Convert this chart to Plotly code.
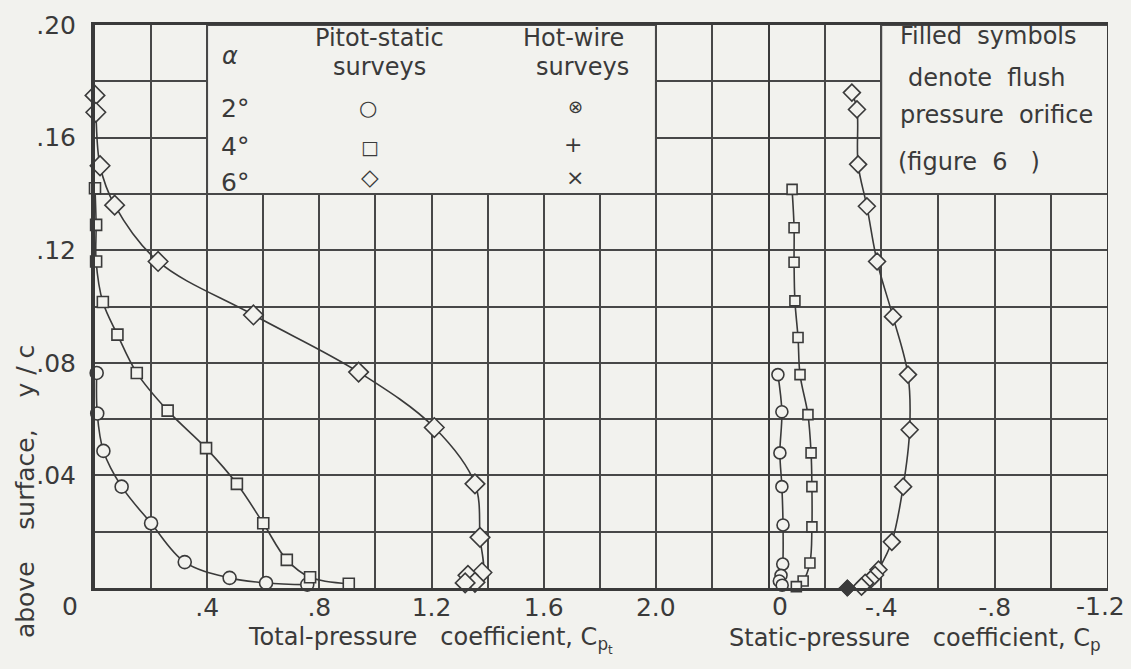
import plotly.graph_objects as go

# ---------------- data ----------------
# Total-pressure coefficient (left panel), y/c
tp_a2_cpt = [0.006, 0.008, 0.030, 0.095, 0.200, 0.320, 0.480, 0.610, 0.757]
tp_a2_y = [0.0764, 0.0620, 0.0487, 0.0360, 0.0230, 0.0092, 0.0036, 0.0018, 0.0012]

tp_a4_cpt = [0.000, 0.004, 0.004, 0.028, 0.080, 0.149, 0.259, 0.396, 0.506, 0.600, 0.684, 0.767, 0.905]
tp_a4_y = [0.1420, 0.1290, 0.1160, 0.1016, 0.0900, 0.0764, 0.0630, 0.0497, 0.0370, 0.0230, 0.0100, 0.0038, 0.0015]

tp_a6_cpt = [0.000, 0.003, 0.018, 0.070, 0.225, 0.565, 0.940, 1.210, 1.355, 1.373, 1.380, 1.330, 1.355, 1.320]
tp_a6_y = [0.1750, 0.1690, 0.1500, 0.1360, 0.1160, 0.0970, 0.0767, 0.0570, 0.0370, 0.0180, 0.0055, 0.0045, 0.0020, 0.0018]

# Static-pressure coefficient (right panel), y/c
sp_a2_cp = [-0.035, -0.049, -0.042, -0.049, -0.053, -0.052, -0.046, -0.040, -0.050]
sp_a2_y = [0.0758, 0.0626, 0.0480, 0.0360, 0.0224, 0.0085, 0.0045, 0.0025, 0.0010]

sp_a4_cp = [-0.085, -0.092, -0.092, -0.095, -0.106, -0.113, -0.141, -0.152, -0.155, -0.155, -0.148, -0.124, -0.100]
sp_a4_y = [0.1416, 0.1280, 0.1157, 0.1020, 0.0890, 0.0758, 0.0616, 0.0480, 0.0360, 0.0217, 0.0089, 0.0025, 0.0005]

sp_a6_cp = [-0.296, -0.314, -0.318, -0.349, -0.385, -0.441, -0.494, -0.500, -0.477, -0.437, -0.390, -0.378, -0.362, -0.343, -0.330]
sp_a6_y = [0.1760, 0.1700, 0.1505, 0.1356, 0.1160, 0.0964, 0.0758, 0.0562, 0.0360, 0.0164, 0.0065, 0.0046, 0.0030, 0.0018, 0.0005]

# flush orifice (filled symbol)
flush_a6_cp = [-0.280]
flush_a6_y = [0.0]

# tick labels
x1_ticks = [0.4, 0.8, 1.2, 1.6, 2.0]
x1_text = [".4", ".8", "1.2", "1.6", "2.0"]
x2_ticks = [-0.4, -0.8]
x2_text = ["-.4", "-.8"]
y_ticks = [0.04, 0.08, 0.12, 0.16, 0.20]
y_text = [".04", ".08", ".12", ".16", ".20"]

# ---------------- style ----------------
BG = "#f2f2ee"
INK = "#3a3a3a"
GRID = "#484848"
FONT = "DejaVu Sans"
GW = 1.8

fig = go.Figure()

def series(x, y, symbol, size, xa):
    fig.add_trace(go.Scatter(
        x=x, y=y, xaxis=xa, yaxis="y", mode="lines+markers",
        line=dict(color=INK, width=1.6, shape="spline", smoothing=1.0),
        marker=dict(symbol=symbol, size=size, color=BG,
                    line=dict(color=INK, width=1.6)),
        showlegend=False, hoverinfo="skip", cliponaxis=False))

series(tp_a2_cpt, tp_a2_y, "circle", 13, "x")
series(tp_a4_cpt, tp_a4_y, "square", 11, "x")
series(tp_a6_cpt, tp_a6_y, "diamond", 15, "x")
series(sp_a2_cp, sp_a2_y, "circle", 12, "x2")
series(sp_a4_cp, sp_a4_y, "square", 10, "x2")
series(sp_a6_cp, sp_a6_y, "diamond", 13, "x2")

fig.add_trace(go.Scatter(
    x=flush_a6_cp, y=flush_a6_y, xaxis="x2", yaxis="y", mode="markers",
    marker=dict(symbol="diamond", size=13, color=INK, line=dict(color=INK, width=1)),
    showlegend=False, hoverinfo="skip", cliponaxis=False))

split = (768 - 95) / 1013.0

def xaxis_cfg(domain, rng, tv, tt, minor_dtick):
    return dict(domain=domain, range=rng, tickmode="array", tickvals=tv, ticktext=tt,
                anchor="y", automargin=False,
                showgrid=True, gridcolor=GRID, gridwidth=GW, zeroline=False,
                minor=dict(dtick=minor_dtick, tick0=0, showgrid=True, gridcolor=GRID,
                           gridwidth=GW, ticks=""),
                ticks="", ticklabelstandoff=-5,
                tickfont=dict(family=FONT, size=25, color=INK),
                showline=True, linecolor=INK, linewidth=3, mirror=True)

fig.update_layout(
    width=1131, height=669,
    margin=dict(l=95, r=23, t=25, b=81, autoexpand=False),
    paper_bgcolor=BG, plot_bgcolor=BG,
    xaxis=xaxis_cfg([0, split], [0, 2.4], x1_ticks, x1_text, 0.2),
    xaxis2=xaxis_cfg([split, 1], [0, -1.2], x2_ticks, x2_text, 0.2),
    yaxis=dict(range=[0, 0.2], tickmode="array", tickvals=y_ticks, ticktext=y_text,
               automargin=False,
               showgrid=True, gridcolor=GRID, gridwidth=GW, zeroline=False,
               minor=dict(dtick=0.02, tick0=0, showgrid=True, gridcolor=GRID,
                          gridwidth=GW, ticks=""),
               ticks="", ticklabelstandoff=10,
               tickfont=dict(family=FONT, size=25, color=INK),
               showline=True, linecolor=INK, linewidth=4),
)

shapes = [
    # legend box (left) and note box (right): no grid inside
    dict(type="rect", xref="x", yref="y", x0=0.4, x1=2.0, y0=0.14, y1=0.2,
         fillcolor=BG, line=dict(color=GRID, width=GW), layer="between"),
    dict(type="rect", xref="x2", yref="y", x0=-0.4, x1=-1.2, y0=0.14, y1=0.2,
         fillcolor=BG, line=dict(color=GRID, width=GW), layer="between"),
    # heavy zero axis of right panel
    dict(type="line", xref="x2", yref="y", x0=0, x1=0, y0=0, y1=0.2,
         line=dict(color=INK, width=4), layer="above"),
    # right frame
    dict(type="line", xref="x2", yref="y", x0=-1.2, x1=-1.2, y0=0, y1=0.2,
         line=dict(color=INK, width=2), layer="above"),
]
fig.update_layout(shapes=shapes)

ann = []
def txt(x, y, s, xref="x", yref="y", size=25, xanchor="center", yanchor="middle", angle=0):
    ann.append(dict(x=x, y=y, xref=xref, yref=yref, text=s, showarrow=False,
                    xanchor=xanchor, yanchor=yanchor, textangle=angle,
                    font=dict(family=FONT, size=size, color=INK)))

# legend (left box)
txt(0.48, 0.189, "<i>α</i>", size=24)
txt(1.016, 0.1955, "Pitot-static", size=24)
txt(1.016, 0.1850, "surveys", size=24)
txt(1.708, 0.1955, "Hot-wire", size=24)
txt(1.737, 0.1850, "surveys", size=24)
txt(0.50, 0.1705, "2°")
txt(0.50, 0.1567, "4°")
txt(0.50, 0.1442, "6°")
txt(0.974, 0.1705, "○", size=21)
txt(0.980, 0.1567, "□", size=19)
txt(0.980, 0.1460, "◇", size=23)
txt(1.715, 0.1709, "⊗", size=18)
txt(1.705, 0.1574, "+", size=22)
txt(1.712, 0.1460, "×", size=22)

# note (right box)
txt(-0.777, 0.1962, "Filled  symbols", xref="x2", size=24)
txt(-0.770, 0.1810, "denote  flush", xref="x2", size=24)
txt(-0.805, 0.1680, "pressure  orifice", xref="x2", size=24)
txt(-0.450, 0.1513, "(figure  6   )", xref="x2", size=24, xanchor="left")

# axis titles and corner labels
txt(-0.0247, -0.0337, "0", xref="paper", yref="paper")
txt(-0.042, -0.0337, "0", xref="x2", yref="paper")
txt(-1.172, -0.0337, "-1.2", xref="x2", yref="paper")
txt(1.195, -0.092, "Total-pressure   coefficient, C<sub>p<sub>t</sub></sub>", yref="paper", size=24)
txt(-0.519, -0.092, "Static-pressure   coefficient, C<sub>p</sub>", xref="x2", yref="paper", size=24)
txt(-0.069, 0.1705, "above    surface,    y / c", xref="paper", yref="paper", size=25, angle=-90)

fig.update_layout(annotations=ann)

fig.write_html("out.html",
               config={"displayModeBar": False},
               post_script="document.body.style.margin='0px';"
                           "document.body.style.background='" + BG + "';")
